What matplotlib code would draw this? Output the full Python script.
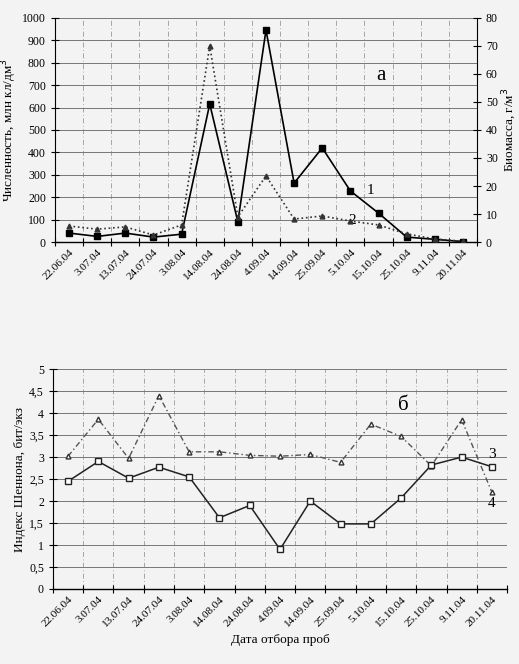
import numpy as np
import matplotlib.pyplot as plt

plt.rcParams['font.family'] = ['Liberation Serif', 'DejaVu Serif']

# sampling dates
dates = ['22.06.04', '3.07.04', '13.07.04', '24.07.04', '3.08.04', '14.08.04',
         '24.08.04', '4.09.04', '14.09.04', '25.09.04', '5.10.04', '15.10.04',
         '25.10.04', '9.11.04', '20.11.04']

# panel a: abundance (left axis), biomass (right axis)
abundance = [40, 25, 40, 22, 35, 616, 90, 946, 263, 420, 228, 129, 22, 12, 2]
biomass = [5.7, 4.6, 5.4, 2.5, 6.1, 70, 9.0, 23.6, 8.2, 9.3, 7.5, 6.1, 2.9, 1.1, 0.3]

# panel b: Shannon index
shannon_4 = [2.45, 2.9, 2.52, 2.77, 2.55, 1.62, 1.9, 0.9, 2.0, 1.48, 1.48, 2.07, 2.82, 3.0, 2.78]
shannon_3 = [3.02, 3.86, 2.97, 4.4, 3.12, 3.12, 3.04, 3.02, 3.06, 2.88, 3.75, 3.47, 2.8, 3.85, 2.2]

x = np.arange(len(dates))
bounds = np.arange(len(dates) + 1) - 0.5

fig = plt.figure(figsize=(5.19, 6.64), dpi=100)
fig.patch.set_facecolor('#f3f3f3')

def style_axis(ax):
  ax.set_facecolor('#f3f3f3')
  ax.set_xlim(-0.5, len(dates) - 0.5)
  ax.set_xticks(bounds)
  ax.set_xticklabels([])
  ax.set_xticks(x, minor=True)
  ax.set_xticklabels(dates, minor=True, rotation=45, ha='right', rotation_mode='anchor', fontsize=8)
  ax.tick_params(axis='x', which='minor', length=0, pad=4)
  ax.tick_params(axis='x', which='major', direction='inout', length=6, width=0.8)
  ax.tick_params(axis='y', direction='inout', length=6, width=0.8, labelsize=8.5)
  # grid: solid horizontal, dashed vertical
  ax.grid(True, axis='y', color='#777777', linewidth=0.7)
  ax.grid(True, axis='x', which='major', color='#999999', linewidth=0.6, linestyle=(0, (6, 3, 1, 3)))
  for s in ['top', 'right']:
    ax.spines[s].set_visible(False)
  ax.spines['left'].set_linewidth(0.8)
  ax.spines['bottom'].set_linewidth(1.0)

# ---- panel a ----
ax1 = fig.add_axes([0.106, 0.6355, 0.813, 0.3375])
style_axis(ax1)
ax1.set_ylim(0, 1000)
ax1.set_yticks(np.arange(0, 1001, 100))
ax1.plot(x, abundance, color='black', linewidth=1.2, marker='s', markersize=4, zorder=4)
ax1.set_ylabel('Численность, млн кл/дм$^3$', fontsize=9.5, labelpad=2)

ax2 = ax1.twinx()
ax2.set_ylim(0, 80)
ax2.set_yticks(np.arange(0, 81, 10))
ax2.plot(x, biomass, color='#333333', linewidth=1.2, linestyle=':', marker='^', markersize=3.5, zorder=3)
ax2.tick_params(axis='y', direction='inout', length=6, width=0.8, labelsize=8.5)
for s in ['top', 'left', 'bottom']:
  ax2.spines[s].set_visible(False)
ax2.spines['right'].set_linewidth(0.8)
ax2.set_ylabel('Биомасса, г/м$^3$', fontsize=9.5, labelpad=2)

ax1.text(11.1, 745, 'а', fontsize=15, ha='center', va='center')
ax1.text(10.7, 232, '1', fontsize=11, ha='center', va='center')
ax1.text(10.05, 98, '2', fontsize=11, ha='center', va='center')

# ---- panel b ----
ax3 = fig.add_axes([0.102, 0.113, 0.875, 0.331])
style_axis(ax3)
ax3.set_ylim(0, 5)
ax3.set_yticks(np.arange(0, 5.01, 0.5))
ax3.set_yticklabels(['0', '0,5', '1', '1,5', '2', '2,5', '3', '3,5', '4', '4,5', '5'])
ax3.plot(x, shannon_3, color='#555555', linewidth=1.0, linestyle=(0, (4, 2, 1, 2)),
         marker='^', markersize=3.5, markerfacecolor='white', markeredgecolor='#333333', zorder=3)
ax3.plot(x, shannon_4, color='#222222', linewidth=1.1, marker='s', markersize=4,
         markerfacecolor='white', markeredgecolor='#222222', zorder=4)
ax3.set_ylabel('Индекс Шеннона, бит/экз', fontsize=9.5, labelpad=2)
ax3.set_xlabel('Дата отбора проб', fontsize=9.5, labelpad=4)

ax3.text(11.06, 4.18, 'б', fontsize=15, ha='center', va='center')
ax3.text(14.0, 3.05, '3', fontsize=11, ha='center', va='center')
ax3.text(14.0, 1.95, '4', fontsize=11, ha='center', va='center')

fig.savefig('out.png', dpi=100, facecolor=fig.get_facecolor())
